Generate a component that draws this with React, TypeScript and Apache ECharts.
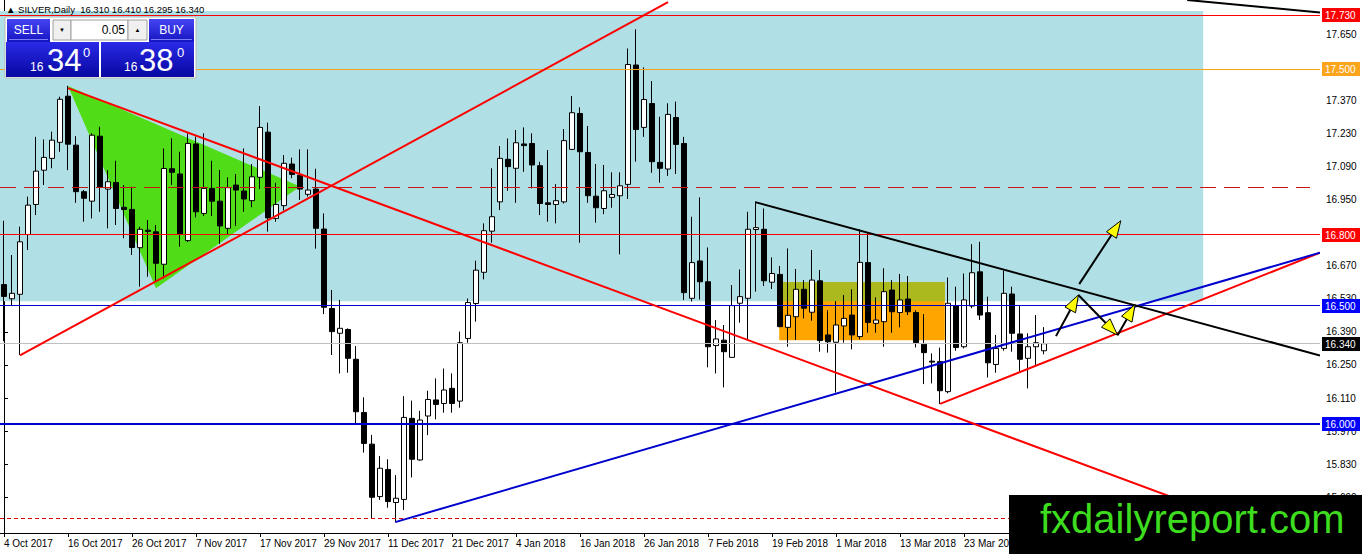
import React, { useEffect, useRef } from "react";
import * as echarts from "echarts";

const FONT = '"Liberation Sans", Arial, sans-serif';

// ---- data ----
const dateLabels = [
  "4 Oct 2017", "16 Oct 2017", "26 Oct 2017", "7 Nov 2017", "17 Nov 2017", "29 Nov 2017",
  "11 Dec 2017", "21 Dec 2017", "4 Jan 2018", "16 Jan 2018", "26 Jan 2018", "7 Feb 2018",
  "19 Feb 2018", "1 Mar 2018", "13 Mar 2018", "23 Mar 2018",
];
const slotCount = 165; // bars + empty future space of the chart window

const opens = [
  16.59, 16.53, 16.549, 16.802, 16.929, 17.074, 17.124, 17.192, 17.387, 17.18,
  16.983, 16.943, 17.218, 16.994, 17.022, 16.917, 16.908, 16.746, 16.82, 16.813,
  16.676, 17.08, 17.058, 16.776, 17.185, 16.891, 16.997, 16.943, 16.828, 17.011,
  16.986, 16.945, 17.044, 17.235, 16.87, 16.924, 17.1, 17.053, 16.972, 16.994,
  16.825, 16.489, 16.384, 16.4, 16.274, 16.049, 15.915, 15.693, 15.808, 15.668,
  15.681, 16.024, 15.848, 16.034, 16.102, 16.087, 16.151, 16.097, 16.362, 16.51,
  16.642, 16.816, 16.94, 17.12, 17.082, 17.185, 17.187, 17.093, 16.936, 16.929,
  16.94, 17.162, 17.314, 17.149, 16.964, 16.912, 16.959, 16.966, 17.014, 17.519,
  17.255, 17.356, 17.107, 17.079, 17.297, 17.187, 16.532, 16.69, 16.602, 16.332,
  16.355, 16.282, 16.511, 16.532, 16.823, 16.824, 16.6, 16.633, 16.409, 16.454,
  16.57, 16.473, 16.606, 16.377, 16.346, 16.415, 16.461, 16.37, 16.683, 16.426,
  16.433, 16.567, 16.472, 16.529, 16.472, 16.338, 16.266, 16.264, 16.137, 16.501,
  16.327, 16.499, 16.644, 16.471, 16.252, 16.32, 16.55, 16.381, 16.278, 16.327,
  16.31,
];
const highs = [
  16.86, 16.715, 16.835, 16.962, 17.215, 17.204, 17.237, 17.385, 17.431, 17.218,
  16.99, 17.23, 17.258, 17.074, 17.114, 17.011, 17.004, 16.835, 16.863, 16.842,
  17.166, 17.209, 17.152, 17.23, 17.216, 17.23, 17.114, 17.075, 17.044, 17.058,
  17.166, 17.1, 17.345, 17.275, 17.021, 17.138, 17.127, 17.162, 17.162, 17.08,
  16.891, 16.567, 16.525, 16.405, 16.33, 16.113, 15.954, 15.865, 15.851, 15.784,
  16.118, 16.099, 16.056, 16.141, 16.193, 16.235, 16.214, 16.391, 16.531, 16.691,
  16.849, 17.082, 17.176, 17.208, 17.244, 17.255, 17.23, 17.11, 17.159, 17.015,
  17.248, 17.388, 17.34, 17.261, 17.1, 17.096, 17.065, 17.065, 17.589, 17.67,
  17.509, 17.451, 17.3, 17.357, 17.364, 17.215, 16.877, 16.959, 16.747, 16.44,
  16.419, 16.588, 16.654, 16.898, 16.941, 16.912, 16.705, 16.669, 16.743, 16.656,
  16.609, 16.736, 16.652, 16.482, 16.52, 16.546, 16.57, 16.824, 16.807, 16.536,
  16.659, 16.609, 16.635, 16.626, 16.482, 16.465, 16.299, 16.323, 16.62, 16.581,
  16.637, 16.761, 16.771, 16.539, 16.377, 16.649, 16.581, 16.499, 16.384, 16.461,
  16.41,
];
const lows = [
  16.35, 16.503, 16.292, 16.736, 16.884, 17.011, 17.082, 17.152, 17.074, 16.936,
  16.856, 16.87, 16.898, 16.828, 16.842, 16.786, 16.715, 16.581, 16.623, 16.6,
  16.616, 17.011, 16.75, 16.77, 16.874, 16.88, 16.88, 16.762, 16.8, 16.838,
  16.898, 16.917, 16.994, 16.814, 16.856, 16.903, 17.04, 16.948, 16.962, 16.742,
  16.465, 16.292, 16.214, 16.217, 16.003, 15.879, 15.601, 15.679, 15.646, 15.587,
  15.636, 15.774, 15.845, 15.953, 16.02, 16.048, 16.048, 16.069, 16.344, 16.433,
  16.612, 16.767, 16.905, 16.987, 16.936, 17.067, 16.997, 16.884, 16.856, 16.849,
  16.933, 17.159, 16.767, 16.936, 16.852, 16.888, 16.915, 16.718, 16.952, 17.11,
  17.215, 17.063, 17.021, 17.05, 17.058, 16.525, 16.518, 16.527, 16.24, 16.214,
  16.155, 16.28, 16.429, 16.355, 16.56, 16.584, 16.571, 16.41, 16.327, 16.356,
  16.447, 16.437, 16.306, 16.302, 16.133, 16.344, 16.316, 16.358, 16.386, 16.386,
  16.327, 16.386, 16.409, 16.461, 16.324, 16.169, 16.172, 16.085, 16.13, 16.31,
  16.32, 16.49, 16.44, 16.197, 16.217, 16.31, 16.306, 16.222, 16.151, 16.243,
  16.295,
];
const closes = [
  16.54, 16.553, 16.771, 16.926, 17.07, 17.128, 17.201, 17.374, 17.184, 16.983,
  16.955, 17.222, 17.001, 17.025, 16.912, 16.908, 16.747, 16.824, 16.815, 16.68,
  17.081, 17.065, 16.804, 17.187, 16.898, 16.997, 16.943, 16.838, 17.0, 16.99,
  16.952, 17.046, 17.255, 16.872, 16.929, 17.103, 17.056, 16.994, 16.99, 16.828,
  16.494, 16.391, 16.405, 16.278, 16.052, 15.918, 15.69, 15.813, 15.672, 15.686,
  16.028, 15.851, 16.017, 16.104, 16.083, 16.144, 16.087, 16.344, 16.514, 16.651,
  16.818, 16.877, 17.124, 17.089, 17.19, 17.178, 17.096, 16.933, 16.929, 16.945,
  17.199, 17.317, 17.152, 16.966, 16.915, 16.987, 16.971, 17.008, 17.521, 17.246,
  17.373, 17.11, 17.082, 17.31, 17.183, 16.556, 16.683, 16.602, 16.327, 16.36,
  16.306, 16.501, 16.539, 16.824, 16.831, 16.606, 16.637, 16.412, 16.46, 16.57,
  16.49, 16.609, 16.353, 16.348, 16.419, 16.447, 16.377, 16.684, 16.43, 16.44,
  16.56, 16.475, 16.525, 16.475, 16.344, 16.302, 16.262, 16.141, 16.511, 16.324,
  16.525, 16.64, 16.461, 16.259, 16.32, 16.553, 16.384, 16.274, 16.327, 16.344,
  16.34,
];

const yTicks = [17.65, 17.51, 17.37, 17.23, 17.09, 16.95, 16.81, 16.67, 16.53, 16.39, 16.25, 16.11, 15.97, 15.83, 15.69];
// tick labels fully hidden behind level tags in the reference are left out
const yTickLabels = [17.65, 17.37, 17.23, 17.09, 16.95, 16.67, 16.53, 16.39, 16.25, 16.11, 15.97, 15.83, 15.69];
const yMin = 15.539;
const yMax = 17.794;

// horizontal price levels
const levelValues = [17.73, 17.5, 17.0, 16.8, 16.5, 16.34, 16.0, 15.602];

// zones: [barFrom, barTo, priceTop, priceBottom]
const blueZone = [-0.5, 149.9, 17.747, 16.52];
const orangeZone = [96.9, 117.6, 16.601, 16.355];

// triangle vertices: [bar, price] x3
const greenTriangle = [8, 17.43, 37, 17.005, 19, 16.575];

// trend lines: [bar1, price1, bar2, price2]
const redLines = [
  [8, 17.421, 158, 15.54],
  [2, 16.29, 83, 17.785],
  [117, 16.085, 164.5, 16.725],
];
const blueLines = [[48.9, 15.585, 164.5, 16.725]];
const blackLines = [
  [93.9, 16.939, 164.5, 16.29],
  [147.9, 17.794, 164.5, 17.741],
];
// arrows: [barFrom, priceFrom, barTo, priceTo]
const arrows = [
  [131.5, 16.372, 134.3, 16.546],
  [134.3, 16.546, 139.2, 16.376],
  [139.2, 16.376, 141.4, 16.506],
  [134.4, 16.592, 139.6, 16.86],
];

// ---- helpers ----
function rectSeries(data: number[][], fill: string, z: number) {
  return {
    type: "custom",
    xAxisIndex: 1,
    yAxisIndex: 0,
    z,
    silent: true,
    clip: true,
    encode: { x: [0, 1], y: [2, 3] },
    data,
    renderItem: (_p: any, api: any) => {
      const a = api.coord([api.value(0), api.value(2)]);
      const b = api.coord([api.value(1), api.value(3)]);
      return {
        type: "rect",
        shape: { x: Math.min(a[0], b[0]), y: Math.min(a[1], b[1]), width: Math.abs(b[0] - a[0]), height: Math.abs(b[1] - a[1]) },
        style: { fill },
      };
    },
  };
}

function segSeries(data: number[][], stroke: string, lineWidth: number, z: number) {
  return {
    type: "custom",
    xAxisIndex: 1,
    yAxisIndex: 0,
    z,
    silent: true,
    clip: true,
    encode: { x: [0, 2], y: [1, 3] },
    data,
    renderItem: (_p: any, api: any) => {
      const a = api.coord([api.value(0), api.value(1)]);
      const b = api.coord([api.value(2), api.value(3)]);
      return {
        type: "line",
        shape: { x1: a[0], y1: a[1], x2: b[0], y2: b[1] },
        style: { stroke, lineWidth },
      };
    },
  };
}

function buildOption() {
  const categories = Array.from({ length: slotCount }, (_, i) => String(i));
  const candles = opens.map((o, i) => [o, closes[i], lows[i], highs[i]]);

  const top = Math.min(blueZone[2], orangeZone[2]);
  const bottom = Math.max(blueZone[3], orangeZone[3]);
  const oliveZone = [orangeZone[0], orangeZone[1], top, bottom];

  const levelStyles: any[] = [
    { color: "#ff0000", width: 1, dash: null, bg: "#ff0000" },
    { color: "#f5a11a", width: 1, dash: null, bg: "#fba41c" },
    { color: "#c81414", width: 1, dash: [16, 8], bg: null },
    { color: "#ff0000", width: 1, dash: null, bg: "#ff0000" },
    { color: "#0000cd", width: 1, dash: null, bg: "#0000ff" },
    { color: "#c0c0c0", width: 1, dash: null, bg: "#000000" },
    { color: "#0000cd", width: 2, dash: null, bg: "#0000ff" },
    { color: "#e00000", width: 1, dash: [4, 3], bg: null },
  ];

  const levelSeries = {
    type: "custom",
    xAxisIndex: 1,
    yAxisIndex: 0,
    z: 5,
    silent: true,
    clip: false,
    encode: { x: 0, y: 1 },
    data: levelValues.map((v) => [-0.5, v]),
    renderItem: (params: any, api: any) => {
      const cs = params.coordSys;
      const v = api.value(1);
      const s = levelStyles[params.dataIndex];
      const yRaw = api.coord([api.value(0), v])[1];
      const y = s.width % 2 ? Math.floor(yRaw) + 0.5 : Math.round(yRaw);
      const x2 = cs.x + cs.width;
      const children: any[] = [
        {
          type: "line",
          shape: { x1: cs.x, y1: y, x2: s.dash ? x2 - 10 : x2, y2: y },
          style: { stroke: s.color, lineWidth: s.width, lineDash: s.dash || undefined },
        },
      ];
      if (s.bg) {
        children.push({ type: "rect", shape: { x: x2 + 2, y: Math.round(yRaw) - 7, width: 38, height: 14 }, style: { fill: s.bg } });
        children.push({
          type: "text",
          x: x2 + 5,
          y: Math.round(yRaw) + 0.5,
          style: { text: v.toFixed(3), fill: "#ffffff", fontSize: 10, fontFamily: FONT, verticalAlign: "middle", align: "left" },
        });
      }
      return { type: "group", children };
    },
  };

  const btnGrad = () =>
    new echarts.graphic.LinearGradient(0, 0, 0, 1, [
      { offset: 0, color: "#4545f5" },
      { offset: 1, color: "#1414c0" },
    ]);
  const priceGrad = () =>
    new echarts.graphic.LinearGradient(0, 0, 0, 1, [
      { offset: 0, color: "#2a2ae8" },
      { offset: 1, color: "#0707a0" },
    ]);
  const txt = (x: number, y: number, text: string, size: number, fill: string, align: string, valign: string) => ({
    type: "text",
    z: 102,
    x,
    y,
    style: { text, fill, fontSize: size, fontFamily: FONT, align, verticalAlign: valign },
  });

  const arrowSeries = {
    type: "custom",
    xAxisIndex: 1,
    yAxisIndex: 0,
    z: 8,
    silent: true,
    clip: true,
    encode: { x: [0, 2], y: [1, 3] },
    data: arrows,
    renderItem: (_p: any, api: any) => {
      const a = api.coord([api.value(0), api.value(1)]);
      const b = api.coord([api.value(2), api.value(3)]);
      const dx = b[0] - a[0];
      const dy = b[1] - a[1];
      const len = Math.hypot(dx, dy) || 1;
      const ux = dx / len;
      const uy = dy / len;
      const L = 17;
      const W = 6;
      const bx = b[0] - ux * L;
      const by = b[1] - uy * L;
      return {
        type: "group",
        children: [
          { type: "line", shape: { x1: a[0], y1: a[1], x2: bx, y2: by }, style: { stroke: "#000", lineWidth: 2 } },
          {
            type: "polygon",
            shape: { points: [[b[0], b[1]], [bx - uy * W, by + ux * W], [bx + uy * W, by - ux * W]] },
            style: { fill: "#ffff00", stroke: "#000", lineWidth: 1 },
          },
        ],
      };
    },
  };

  return {
    animation: false,
    backgroundColor: "#ffffff",
    grid: { left: 0, top: 0, right: 42, bottom: 21, containLabel: false },
    xAxis: [
      {
        type: "category",
        data: categories,
        boundaryGap: true,
        axisLine: { show: true, lineStyle: { color: "#000", width: 1 } },
        axisTick: { show: true, interval: 7, length: 4, alignWithLabel: true, lineStyle: { color: "#000" } },
        axisLabel: {
          interval: 7,
          align: "left",
          margin: 5,
          fontSize: 10,
          fontFamily: FONT,
          color: "#000",
          formatter: (_v: string, i: number) => dateLabels[i / 8] ?? "",
        },
        splitLine: { show: false },
      },
      { type: "value", min: -0.5, max: slotCount - 0.5, show: false },
    ],
    yAxis: {
      type: "value",
      position: "right",
      min: yMin,
      max: yMax,
      axisLine: { show: true, lineStyle: { color: "#000", width: 1 } },
      axisTick: { show: true, length: 4, customValues: yTicks, lineStyle: { color: "#000" } },
      axisLabel: {
        customValues: yTickLabels,
        formatter: (v: number) => v.toFixed(3),
        margin: 6,
        fontSize: 10,
        fontFamily: FONT,
        color: "#000",
      },
      splitLine: { show: false },
    },
    series: [
      rectSeries([blueZone], "#b0e0e6", 1),
      rectSeries([orangeZone], "#ffa500", 1.1),
      rectSeries([oliveZone], "#abb91f", 1.2),
      {
        type: "custom",
        xAxisIndex: 1,
        yAxisIndex: 0,
        z: 1.5,
        silent: true,
        clip: true,
        encode: { x: [0, 2, 4], y: [1, 3, 5] },
        data: [greenTriangle],
        renderItem: (_p: any, api: any) => {
          const p1 = api.coord([api.value(0), api.value(1)]);
          const p2 = api.coord([api.value(2), api.value(3)]);
          const p3 = api.coord([api.value(4), api.value(5)]);
          return { type: "polygon", shape: { points: [p1, p2, p3] }, style: { fill: "#50dc16" } };
        },
      },
      {
        type: "candlestick",
        xAxisIndex: 0,
        yAxisIndex: 0,
        z: 3,
        barWidth: 5,
        data: candles,
        itemStyle: { color: "#ffffff", color0: "#000000", borderColor: "#000000", borderColor0: "#000000", borderWidth: 1 },
      },
      levelSeries,
      segSeries(redLines, "#ff0000", 2, 6),
      segSeries(blueLines, "#0000cd", 2, 6),
      segSeries(blackLines, "#000000", 2, 6),
      arrowSeries,
    ],
    graphic: [
      {
        type: "text",
        z: 100,
        x: 6,
        y: 9,
        style: { text: "▲ SILVER,Daily  16.310 16.410 16.295 16.340", fill: "#000", fontSize: 9.5, fontFamily: FONT, verticalAlign: "middle" },
      },
      { type: "rect", z: 100, shape: { x: 5, y: 17, width: 191, height: 61 }, style: { fill: "#ffffff", stroke: "#b8b8b8" } },
      { type: "rect", z: 101, shape: { x: 7, y: 19, width: 43, height: 23 }, style: { fill: btnGrad() } },
      { type: "line", z: 102, shape: { x1: 9, y1: 39.5, x2: 48, y2: 39.5 }, style: { stroke: "#7c7cff", lineWidth: 1 } },
      txt(28.5, 30, "SELL", 12, "#fff", "center", "middle"),
      { type: "rect", z: 101, shape: { x: 53, y: 20, width: 18, height: 20 }, style: { fill: "#f0f0f0", stroke: "#a0a0a0" } },
      txt(62, 30, "▼", 6, "#000", "center", "middle"),
      { type: "rect", z: 101, shape: { x: 71, y: 20, width: 57, height: 20 }, style: { fill: "#ffffff", stroke: "#a0a0a0" } },
      txt(125, 30, "0.05", 12, "#000", "right", "middle"),
      { type: "rect", z: 101, shape: { x: 128, y: 20, width: 19, height: 20 }, style: { fill: "#f0f0f0", stroke: "#a0a0a0" } },
      txt(137.5, 30, "▲", 6, "#000", "center", "middle"),
      { type: "rect", z: 101, shape: { x: 149, y: 19, width: 45, height: 23 }, style: { fill: btnGrad() } },
      { type: "line", z: 102, shape: { x1: 151, y1: 39.5, x2: 192, y2: 39.5 }, style: { stroke: "#7c7cff", lineWidth: 1 } },
      txt(171.5, 30, "BUY", 12, "#fff", "center", "middle"),
      { type: "rect", z: 101, shape: { x: 6, y: 42, width: 93, height: 35 }, style: { fill: priceGrad() } },
      { type: "rect", z: 101, shape: { x: 101, y: 42, width: 93, height: 35 }, style: { fill: priceGrad() } },
      txt(30, 73, "16", 12, "#fff", "left", "bottom"),
      txt(47, 76, "34", 31, "#fff", "left", "bottom"),
      txt(83, 46, "0", 13, "#fff", "left", "top"),
      txt(124, 73, "16", 12, "#fff", "left", "bottom"),
      txt(139, 76, "38", 31, "#fff", "left", "bottom"),
      txt(177, 46, "0", 13, "#fff", "left", "top"),
      { type: "rect", z: 200, shape: { x: 1009, y: 495, width: 353, height: 59 }, style: { fill: "#000000" } },
      {
        type: "text",
        z: 201,
        x: 1040,
        y: 519,
        style: { text: "fxdailyreport.com", fill: "#3ddc1e", fontSize: 40, fontFamily: FONT, verticalAlign: "middle" },
      },
    ],
  };
}

export default function App() {
  const ref = useRef<HTMLDivElement>(null);
  useEffect(() => {
    if (!ref.current) return;
    const chart = echarts.init(ref.current, null, { renderer: "svg" });
    chart.setOption(buildOption() as any);
    return () => chart.dispose();
  }, []);
  return (
    <div
      ref={ref}
      style={{ position: "fixed", left: 0, top: 0, width: 1362, height: 554, background: "#ffffff" }}
    />
  );
}
